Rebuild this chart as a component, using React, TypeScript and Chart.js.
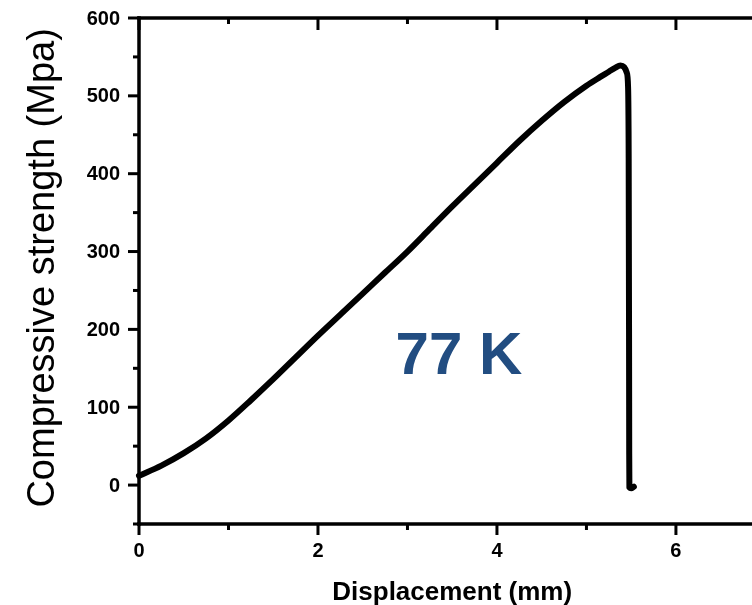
import React, { useEffect, useRef } from "react";
import { Chart, registerables } from "chart.js";

Chart.register(...registerables);

// Compression test at 77 K: displacement (mm) vs compressive strength (MPa)
const displacement = [
  0, 0.25, 0.5, 0.75, 1.0, 1.25, 1.5, 1.75, 2.0, 2.25, 2.5, 2.75, 3.0, 3.25, 3.5,
  3.75, 4.0, 4.25, 4.5, 4.75, 5.0, 5.15, 5.25, 5.32, 5.38, 5.42, 5.45, 5.465,
  5.472, 5.476, 5.478, 5.48, 5.5, 5.53,
];
const strength = [
  12, 25, 41, 60, 83, 109, 136, 164, 192, 219, 246, 273, 300, 329, 358, 386,
  414, 442, 468, 492, 513, 524, 531, 536, 539, 537, 530, 512, 420, 200, 40, -3,
  -4, -2,
];

const xMajorTicks = [0, 2, 4, 6];
const xMinorTicks = [1, 3, 5];
const yMajorTicks = [0, 100, 200, 300, 400, 500, 600];
const yMinorTicks = [-50, 50, 150, 250, 350, 450, 550];

const xTitle = "Displacement (mm)";
const yTitle = "Compressive strength (Mpa)";
const tempLabel = "77 K";
const tempLabelX = 3.575;
const tempLabelY = 167;

const FONT = '"Liberation Sans", Arial, Helvetica, sans-serif';

const frameAxes = {
  id: "frameAxes",
  afterDatasetsDraw(chart: any) {
    const { ctx, chartArea: a, scales } = chart;
    const x = scales.x;
    const y = scales.y;
    const seg = (x1: number, y1: number, x2: number, y2: number) => {
      ctx.beginPath();
      ctx.moveTo(x1, y1);
      ctx.lineTo(x2, y2);
      ctx.stroke();
    };
    ctx.save();
    ctx.strokeStyle = "#000";
    ctx.lineCap = "square";
    ctx.lineWidth = 3.5;
    seg(a.left, a.top, a.left, a.bottom);
    seg(a.left, a.bottom, a.right + 4, a.bottom);
    seg(a.left, a.top, a.right + 4, a.top);

    ctx.lineCap = "butt";
    ctx.lineWidth = 3;
    for (const v of yMajorTicks) {
      const p = y.getPixelForValue(v);
      seg(a.left - 11, p, a.left, p);
    }
    for (const v of yMinorTicks) {
      const p = y.getPixelForValue(v);
      seg(a.left - 6, p, a.left, p);
    }
    for (const v of xMajorTicks) {
      const p = x.getPixelForValue(v);
      seg(p, a.bottom, p, a.bottom + 11);
      seg(p, a.top, p, a.top + 12);
    }
    for (const v of xMinorTicks) {
      const p = x.getPixelForValue(v);
      seg(p, a.bottom, p, a.bottom + 6);
      seg(p, a.top, p, a.top + 6);
    }

    ctx.fillStyle = "#000";
    ctx.font = `bold 20px ${FONT}`;
    ctx.textAlign = "right";
    ctx.textBaseline = "middle";
    for (const v of yMajorTicks) {
      ctx.fillText(String(v), a.left - 19, y.getPixelForValue(v) + 1);
    }
    ctx.textAlign = "center";
    for (const v of xMajorTicks) {
      ctx.fillText(String(v), x.getPixelForValue(v), a.bottom + 27);
    }

    ctx.font = `bold 26px ${FONT}`;
    ctx.textBaseline = "alphabetic";
    ctx.fillText(xTitle, x.getPixelForValue(3.5), a.bottom + 76);

    ctx.save();
    ctx.translate(54, y.getPixelForValue(279));
    ctx.rotate(-Math.PI / 2);
    ctx.font = `38px ${FONT}`;
    ctx.textAlign = "center";
    ctx.textBaseline = "alphabetic";
    ctx.fillText(yTitle, 0, 0);
    ctx.restore();

    ctx.fillStyle = "#224d81";
    ctx.font = `bold 60px ${FONT}`;
    ctx.textAlign = "center";
    ctx.textBaseline = "middle";
    ctx.fillText(tempLabel, x.getPixelForValue(tempLabelX), y.getPixelForValue(tempLabelY) + 2);
    ctx.restore();
  },
};

export default function App() {
  const canvasRef = useRef<HTMLCanvasElement | null>(null);

  useEffect(() => {
    const canvas = canvasRef.current;
    if (!canvas) return;
    const chart = new Chart(canvas, {
      type: "line",
      data: {
        datasets: [
          {
            data: displacement.map((d, i) => ({ x: d, y: strength[i] })),
            borderColor: "#000",
            borderWidth: 6,
            borderCapStyle: "round",
            borderJoinStyle: "round",
            pointRadius: 0,
            fill: false,
            cubicInterpolationMode: "monotone",
            clip: 8,
          },
        ],
      },
      options: {
        animation: false,
        responsive: false,
        devicePixelRatio: 1,
        layout: { padding: { left: 139, top: 18, right: 0, bottom: 81 } },
        plugins: { legend: { display: false }, tooltip: { enabled: false } },
        scales: {
          x: { type: "linear", min: 0, max: 6.85, display: false },
          y: { type: "linear", min: -50, max: 600, display: false },
        },
      },
      plugins: [frameAxes],
    });
    return () => chart.destroy();
  }, []);

  return (
    <div style={{ position: "fixed", left: 0, top: 0, width: 752, height: 605, background: "#fff" }}>
      <canvas ref={canvasRef} width={752} height={605} />
    </div>
  );
}
